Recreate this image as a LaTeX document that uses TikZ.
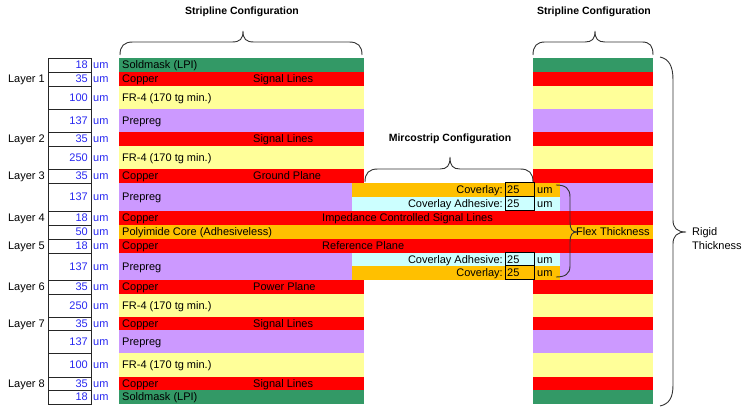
\documentclass[tikz,border=0pt]{standalone}
\usepackage{fontspec}
\setmainfont{Liberation Sans}
\definecolor{smask}{HTML}{339966}
\definecolor{cu}{HTML}{FF0000}
\definecolor{frfour}{HTML}{FFFF99}
\definecolor{ppg}{HTML}{CC99FF}
\definecolor{pimide}{HTML}{FFC000}
\definecolor{adh}{HTML}{CCFFFF}
\definecolor{numblue}{HTML}{2828F0}
\definecolor{bracegray}{HTML}{333333}
\newcommand\bandLR[3]{\fill[#3] (119,#1) rectangle (364,#2); \fill[#3] (533,#1) rectangle (653,#2);}
\begin{document}
\begin{tikzpicture}[x=1pt,y=-1pt,
  txt/.style={font=\fontsize{11}{13}\selectfont, inner sep=0pt},
  lbl/.style={txt, anchor=base west},
  layer/.style={txt, anchor=base east},
  val/.style={txt, anchor=base east, text=numblue},
  unit/.style={txt, anchor=base west, text=numblue},
  ttl/.style={font=\bfseries\fontsize{10.5}{12}\selectfont, inner sep=0pt},
  vbox/.style={draw=black, line width=1pt, minimum width=29pt, minimum height=14pt, inner sep=0pt},
  brc/.style={draw=bracegray, line width=0.9pt},
  grid/.style={draw=black!85, line width=0.8pt}]
\useasboundingbox (0,0) rectangle (750,411);
% ---- bands
\bandLR{58}{72}{smask}
\bandLR{72}{86}{cu}
\bandLR{86}{109}{frfour}
\bandLR{109}{132}{ppg}
\bandLR{132}{146}{cu}
\bandLR{146}{169}{frfour}
\bandLR{169}{183}{cu}
\bandLR{183}{211}{ppg}
\fill[pimide] (352,183) rectangle (560,197);
\fill[adh] (352,197) rectangle (560,211);
\fill[cu] (119,211) rectangle (653,225);
\fill[pimide] (119,225) rectangle (653,239);
\fill[cu] (119,239) rectangle (653,253);
\bandLR{253}{280}{ppg}
\fill[adh] (352,253) rectangle (560,266);
\fill[pimide] (352,266) rectangle (560,280);
\bandLR{280}{294}{cu}
\bandLR{294}{317}{frfour}
\bandLR{317}{330}{cu}
\bandLR{330}{353}{ppg}
\bandLR{353}{377}{frfour}
\bandLR{377}{390}{cu}
\bandLR{390}{404}{smask}
% ---- table grid
\draw[grid] (48,58) rectangle (91,404);
\foreach \yy in {72,86,109,132,146,169,183,211,225,239,253,280,294,317,330,353,377,390}
  \draw[grid] (48,\yy) -- (91,\yy);
% ---- table values
\foreach \yc/\v [count=\k] in {65/18,79/35,97.5/100,120.5/137,139/35,157.5/250,176/35,197/137,218/18,232/50,246/18,266.5/137,287/35,305.5/250,323.5/35,341.5/137,365/100,383.5/35,397/18} {
  \node[val] (val\k) at (88,\yc+4) {\v};
  \node[unit] (unit\k) at (93,\yc+4) {um};
}
\foreach \yc/\n in {79/1,139/2,176/3,218/4,246/5,287/6,323.5/7,383.5/8}
  \node[layer] (layer\n) at (45,\yc+4) {Layer \n};
% ---- stripe labels
\node[lbl] (s1) at (122,69) {Soldmask (LPI)};
\node[lbl] (s2) at (122,83) {Copper};
\node[lbl] (s2b) at (253,83) {Signal Lines};
\node[lbl] (s3) at (122,101.5) {FR-4 (170 tg min.)};
\node[lbl] (s4) at (122,124.5) {Prepreg};
\node[lbl] (s5b) at (253,143) {Signal Lines};
\node[lbl] (s6) at (122,161.5) {FR-4 (170 tg min.)};
\node[lbl] (s7) at (122,180) {Copper};
\node[lbl] (s7b) at (253,180) {Ground Plane};
\node[lbl] (s8) at (122,201) {Prepreg};
\node[lbl] (s10) at (122,222) {Copper};
\node[lbl] (s10b) at (322,222) {Impedance Controlled Signal Lines};
\node[lbl] (s11) at (122,236) {Polyimide Core (Adhesiveless)};
\node[lbl] (s12) at (122,250) {Copper};
\node[lbl] (s12b) at (322,250) {Reference Plane};
\node[lbl] (s13) at (122,270.5) {Prepreg};
\node[lbl] (s15) at (122,291) {Copper};
\node[lbl] (s15b) at (253,291) {Power Plane};
\node[lbl] (s16) at (122,309.5) {FR-4 (170 tg min.)};
\node[lbl] (s17) at (122,327.5) {Copper};
\node[lbl] (s17b) at (253,327.5) {Signal Lines};
\node[lbl] (s18) at (122,345.5) {Prepreg};
\node[lbl] (s19) at (122,369) {FR-4 (170 tg min.)};
\node[lbl] (s20) at (122,387.5) {Copper};
\node[lbl] (s20b) at (253,387.5) {Signal Lines};
\node[lbl] (s21) at (122,401) {Soldmask (LPI)};
% ---- coverlay entries
\node[layer] (cl1) at (503,194) {Coverlay:};
\node[layer] (ca1) at (503,208) {Coverlay Adhesive:};
\node[layer] (ca2) at (503,263.5) {Coverlay Adhesive:};
\node[layer] (cl2) at (503,277) {Coverlay:};
\node[vbox, fill=pimide] (b1) at (519.5,190) {};
\node[vbox, fill=adh] (b2) at (519.5,204) {};
\node[vbox, fill=adh] (b3) at (519.5,259.5) {};
\node[vbox, fill=pimide] (b4) at (519.5,273) {};
\node[lbl] (b1t) at (507,194) {25};
\node[lbl] (b2t) at (507,208) {25};
\node[lbl] (b3t) at (507,263.5) {25};
\node[lbl] (b4t) at (507,277) {25};
\node[lbl] (u1) at (537,194) {um};
\node[lbl] (u2) at (537,208) {um};
\node[lbl] (u3) at (537,263.5) {um};
\node[lbl] (u4) at (537,277) {um};
% ---- titles
\node[ttl] (t1) at (242,12) {Stripline Configuration};
\node[ttl] (t2) at (594,12) {Stripline Configuration};
\node[ttl] (t3) at (450,139) {Mircostrip Configuration};
\node[lbl] (flex) at (576,236) {Flex Thickness};
\node[lbl] (rig1) at (692,236) {Rigid};
\node[lbl] (rig2) at (692,250) {Thickness};
% ---- braces
\draw[brc] (120,55) .. controls (120,46) and (124,42) .. (133,42) -- (232,42)
  .. controls (240,42) and (243,39) .. (243,31) .. controls (243,39) and (246,42) .. (254,42)
  -- (349,42) .. controls (358,42) and (362,46) .. (362,55);
\draw[brc] (533,55) .. controls (533,46) and (537,42) .. (545,42) -- (585,42)
  .. controls (592,42) and (595,39) .. (595,31) .. controls (595,39) and (598,42) .. (605,42)
  -- (642,42) .. controls (650,42) and (653,46) .. (653,55);
\draw[brc] (365,182) .. controls (365,173) and (369,169) .. (378,169) -- (440,169)
  .. controls (447,169) and (450,166) .. (450,157) .. controls (450,166) and (453,169) .. (460,169)
  -- (520,169) .. controls (529,169) and (533,173) .. (533,182);
\draw[brc] (556,185) .. controls (565,185) and (570,188) .. (570,197) -- (570,222)
  .. controls (570,229) and (572,232) .. (577,232) .. controls (572,232) and (570,235) .. (570,242)
  -- (570,266) .. controls (570,274) and (565,277) .. (556,277);
\draw[brc] (660,57) .. controls (669,59) and (673,66) .. (673,80) -- (673,220)
  .. controls (673,228) and (677,232) .. (686,232) .. controls (677,232) and (673,236) .. (673,244)
  -- (673,385) .. controls (673,398) and (669,404) .. (660,406);
\end{tikzpicture}
\end{document}
